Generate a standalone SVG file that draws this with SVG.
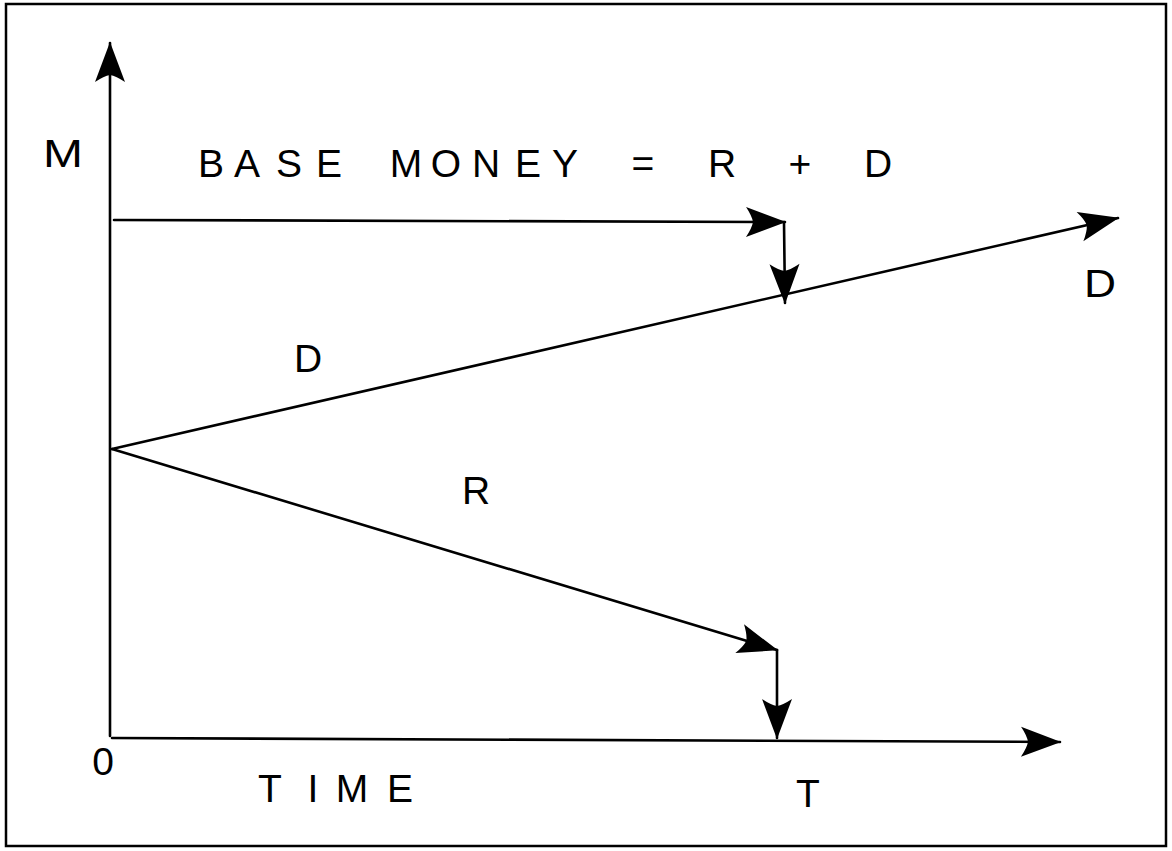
<svg xmlns="http://www.w3.org/2000/svg" width="1172" height="851" viewBox="0 0 1172 851">
<style>
.ln{fill:none;stroke:#000;stroke-width:2.6;stroke-linecap:round}
.t{font-family:"Liberation Sans",Arial,sans-serif;font-size:39px;fill:#000;text-anchor:middle}
</style>
<defs>
<marker id="ah" markerUnits="userSpaceOnUse" markerWidth="50" markerHeight="40" viewBox="-42 -20 46 40" refX="0" refY="0" orient="auto">
<path d="M1,0 L-39,-15 Q-33,-6 -32,0 Q-33,6 -39,15 Z" fill="#000"/>
</marker>
</defs>
<rect x="6" y="4" width="1160" height="842" fill="#fff" stroke="#000" stroke-width="2.5"/>
<g id="connectors">
<line id="y-axis" class="ln" x1="110" y1="736" x2="110" y2="43" marker-end="url(#ah)"/>
<line id="x-axis" class="ln" x1="112" y1="738" x2="1060" y2="742" marker-end="url(#ah)"/>
<line id="base-arrow" class="ln" x1="114" y1="220" x2="785" y2="222" marker-end="url(#ah)"/>
<line id="base-down" class="ln" x1="784" y1="222" x2="785" y2="303" marker-end="url(#ah)"/>
<line id="d-line" class="ln" x1="112" y1="449" x2="1118" y2="218" marker-end="url(#ah)"/>
<line id="r-line" class="ln" x1="112" y1="449" x2="777" y2="650" marker-end="url(#ah)"/>
<line id="r-down" class="ln" x1="777" y1="650" x2="777" y2="738" marker-end="url(#ah)"/>
</g>
<g id="label-m"><text class="t" x="63" y="167" textLength="40" lengthAdjust="spacingAndGlyphs">M</text></g>
<g id="title"><text class="t" x="211 247 289 329 360 406 446 486 528 565 598 643 680 722 760 800 840 878" y="177">BASE MONEY = R + D</text></g>
<g id="label-d-right"><text class="t" x="1100" y="297" textLength="32" lengthAdjust="spacingAndGlyphs">D</text></g>
<g id="label-d"><text class="t" x="308" y="372">D</text></g>
<g id="label-r"><text class="t" x="476" y="504">R</text></g>
<g id="label-0"><text class="t" x="103" y="775">0</text></g>
<g id="label-time"><text class="t" x="270 292 313 332 352 376 400" y="802">T I M E</text></g>
<g id="label-t"><text class="t" x="808" y="807">T</text></g>
</svg>
